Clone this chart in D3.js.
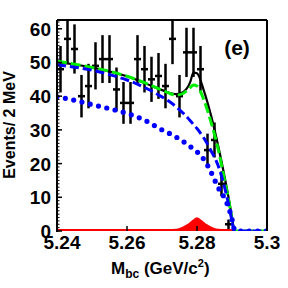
<!DOCTYPE html>
<meta charset="utf-8">
<script src="https://d3js.org/d3.v7.min.js"></script>
<style>
  body { margin: 0; background: #fff; }
  text { font-family: "Liberation Sans", Arial, Helvetica, sans-serif; font-weight: bold; }
</style>
<svg id="chart" width="288" height="288"></svg>
<script>

// data points: bin centres (GeV/c^2), events per 2 MeV, errors
var binCenters = [5.241, 5.243, 5.245, 5.247, 5.249, 5.251, 5.253, 5.255, 5.257, 5.259,
                  5.261, 5.263, 5.265, 5.267, 5.269, 5.271, 5.273, 5.275, 5.277, 5.279,
                  5.281, 5.283, 5.285, 5.287, 5.289];
var counts = [48, 57, 54, 40, 43, 49, 51, 51, 42, 38,
              38, 51, 48, 45, 46, 43, 57, 40, 53, 53,
              48, 24, 27, 14, 2];
var errors = [6.9, 7.5, 7.3, 6.3, 6.6, 7.0, 7.1, 7.1, 6.5, 6.2,
              6.2, 7.1, 6.9, 6.7, 6.8, 6.6, 7.5, 6.3, 7.3, 7.3,
              6.9, 4.9, 5.2, 3.7, 1.4];

// fit curves at these masses
var fitMass = [5.240, 5.245, 5.250, 5.255, 5.260, 5.265, 5.270, 5.272, 5.274, 5.276,
               5.278, 5.279, 5.280, 5.282, 5.284, 5.286, 5.288, 5.289, 5.290, 5.2905,
               5.291, 5.300];
var totalFit = [50.1, 49.4, 48.5, 47.3, 45.9, 43.9, 41.8, 41.0, 40.6, 41.2,
                44.0, 47.0, 46.8, 41.5, 34.3, 25.5, 15.5, 10.0, 4.0, 1.0,
                0, 0];
var bkgFit = [50.4, 49.5, 48.5, 47.4, 45.9, 44.0, 41.8, 40.9, 40.3, 40.8,
              42.5, 43.3, 43.0, 38.8, 32.3, 24.5, 14.5, 9.5, 3.5, 1.0,
              0, 0];
var continuumFit = [49.3, 48.6, 47.7, 46.4, 44.8, 42.6, 39.8, 38.5, 36.9, 35.0,
                    32.8, 31.6, 30.4, 27.5, 23.8, 19.5, 12.5, 8.0, 3.0, 0.5,
                    0, 0];
var otherFit = [39.8, 38.8, 37.5, 36.3, 34.9, 32.9, 30.0, 29.0, 27.9, 26.6,
                25.1, 24.3, 23.5, 21.2, 17.5, 13.0, 9.5, 7.0, 3.5, 1.0,
                0, 0];

// signal peak
var signalMass = [5.240, 5.272, 5.274, 5.275, 5.276, 5.277, 5.278, 5.279, 5.280, 5.281,
                  5.282, 5.283, 5.284, 5.285, 5.286, 5.288, 5.2905];
var signal = [0.6, 0.6, 0.7, 0.9, 1.3, 1.9, 2.7, 3.5, 4.1, 3.5,
              2.7, 1.9, 1.3, 0.9, 0.7, 0.6, 0.6];

var yTicks = [0, 10, 20, 30, 40, 50, 60];
var xTicks = [5.24, 5.26, 5.28, 5.30];
var xTickLabels = ["5.24", "5.26", "5.28", "5.3"];

var svg = d3.select("#chart");

var x = d3.scaleLinear().domain([5.24, 5.30]).range([57, 267]);
var y = d3.scaleLinear().domain([0, 62.6]).range([231, 20]);

svg.append("clipPath").attr("id", "clip")
  .append("rect")
    .attr("x", x(5.24)).attr("y", y(62.6))
    .attr("width", x(5.30) - x(5.24)).attr("height", y(0) - y(62.6));

var plot = svg.append("g").attr("clip-path", "url(#clip)");

// error bars
var pts = binCenters.map(function(m, i) { return {m: m, c: counts[i], e: errors[i]}; });

plot.selectAll(".ebar")
  .data(pts)
  .enter()
  .append("line")
    .attr("x1", function(d) { return x(d.m); })
    .attr("x2", function(d) { return x(d.m); })
    .attr("y1", function(d) { return y(d.c - d.e); })
    .attr("y2", function(d) { return y(d.c + d.e); })
    .attr("stroke", "#000").attr("stroke-width", 2.5);

plot.selectAll(".emark")
  .data(pts)
  .enter()
  .append("line")
    .attr("x1", function(d) { return x(d.m - 0.001); })
    .attr("x2", function(d) { return x(d.m + 0.001); })
    .attr("y1", function(d) { return y(d.c); })
    .attr("y2", function(d) { return y(d.c); })
    .attr("stroke", "#000").attr("stroke-width", 2.5);

function curveOf(vals) {
  return d3.line()
    .x(function(d, i) { return x(fitMass[i]); })
    .y(function(d) { return y(d); })
    .curve(d3.curveMonotoneX)(vals);
}

// total fit
plot.append("path").attr("d", curveOf(totalFit))
  .attr("fill", "none").attr("stroke", "#000").attr("stroke-width", 2.2);

// signal
plot.append("path")
  .attr("d", d3.area()
    .x(function(d, i) { return x(signalMass[i]); })
    .y0(y(0))
    .y1(function(d) { return y(d); })
    .curve(d3.curveMonotoneX)(signal))
  .attr("fill", "#ff0000");

// backgrounds
plot.append("path").attr("d", curveOf(bkgFit))
  .attr("fill", "none").attr("stroke", "#00ee00").attr("stroke-width", 3)
  .attr("stroke-dasharray", "10,4");

plot.append("path").attr("d", curveOf(continuumFit))
  .attr("fill", "none").attr("stroke", "#0000ff").attr("stroke-width", 3)
  .attr("stroke-dasharray", "9,4");

plot.append("path").attr("d", curveOf(otherFit))
  .attr("fill", "none").attr("stroke", "#0000ff").attr("stroke-width", 5.2)
  .attr("stroke-linecap", "round")
  .attr("stroke-dasharray", "0,8.5");

// frame
var frame = svg.append("g").attr("stroke", "#000").attr("fill", "none");
frame.append("line").attr("x1", x(5.24)).attr("x2", x(5.30)).attr("y1", y(62.6)).attr("y2", y(62.6)).attr("stroke-width", 2);
frame.append("line").attr("x1", x(5.30)).attr("x2", x(5.30)).attr("y1", y(62.6)).attr("y2", y(0)).attr("stroke-width", 2);
frame.append("line").attr("x1", x(5.24)).attr("x2", x(5.24)).attr("y1", y(62.6)).attr("y2", y(0) + 1).attr("stroke-width", 2);

// y ticks
frame.selectAll(".minor")
  .data(d3.range(0, 63, 1))
  .enter()
  .append("line")
    .attr("x1", x(5.24)).attr("x2", x(5.24) + 2.5)
    .attr("y1", function(d) { return y(d); })
    .attr("y2", function(d) { return y(d); })
    .attr("stroke-width", 1);

frame.selectAll(".major")
  .data(yTicks)
  .enter()
  .append("line")
    .attr("x1", x(5.24)).attr("x2", x(5.24) + 5)
    .attr("y1", function(d) { return y(d); })
    .attr("y2", function(d) { return y(d); })
    .attr("stroke-width", 1.5);

frame.selectAll(".xmajor")
  .data(xTicks.slice(1, 3))
  .enter()
  .append("line")
    .attr("x1", function(d) { return x(d); })
    .attr("x2", function(d) { return x(d); })
    .attr("y1", y(0)).attr("y2", y(0) - 5)
    .attr("stroke-width", 1.5);

// labels
svg.selectAll(".ylab")
  .data(yTicks)
  .enter()
  .append("text")
    .attr("x", 51)
    .attr("y", function(d) { return y(d) + 7; })
    .attr("text-anchor", "end")
    .attr("font-size", 19)
    .text(function(d) { return d; });

svg.selectAll(".xlab")
  .data(xTicks)
  .enter()
  .append("text")
    .attr("x", function(d, i) { return x(d) + (i === 0 ? 5 : 0); })
    .attr("y", 249)
    .attr("text-anchor", "middle")
    .attr("font-size", 19)
    .text(function(d, i) { return xTickLabels[i]; });

var xt = svg.append("text").attr("x", 111).attr("y", 274).attr("font-size", 17);
xt.append("tspan").text("M");
xt.append("tspan").attr("font-size", 12).attr("dy", 4).text("bc");
xt.append("tspan").attr("dy", -4).text(" (GeV/c");
xt.append("tspan").attr("font-size", 11).attr("dy", -7).text("2");
xt.append("tspan").attr("dy", 7).text(")");

svg.append("text")
  .attr("transform", "translate(15,125) rotate(-90)")
  .attr("text-anchor", "middle")
  .attr("font-size", 16)
  .text("Events/ 2 MeV");

svg.append("text")
  .attr("x", 237).attr("y", 55)
  .attr("text-anchor", "middle")
  .attr("font-size", 21)
  .text("(e)");

</script>
